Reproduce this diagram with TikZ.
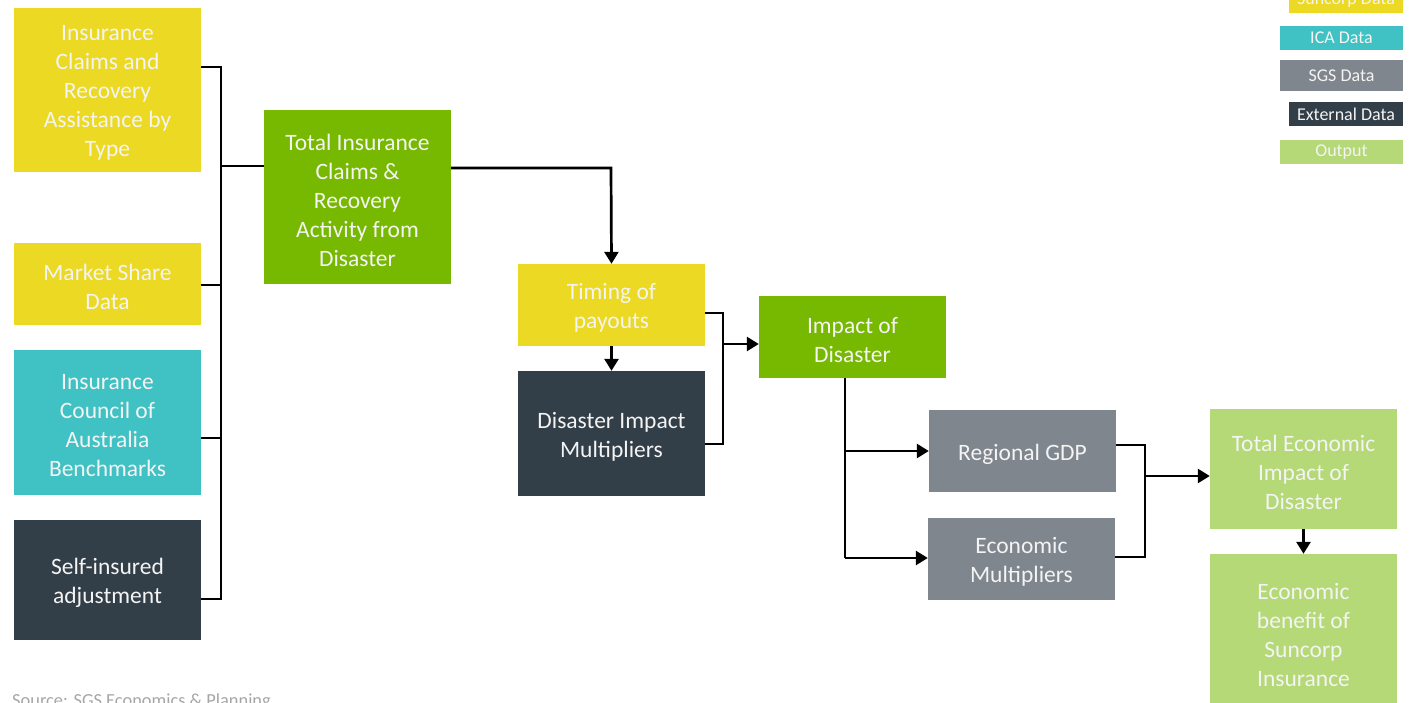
\documentclass[tikz,border=0pt]{standalone}
\usepackage{fontspec}
\setmainfont{Carlito}
\usetikzlibrary{arrows.meta}
\definecolor{yel}{HTML}{EBD923}
\definecolor{teal}{HTML}{40C1C3}
\definecolor{dark}{HTML}{323E48}
\definecolor{grn}{HTML}{76B900}
\definecolor{gry}{HTML}{7F868D}
\definecolor{lgrn}{HTML}{B5D976}
\definecolor{txt}{HTML}{F4F4F4}
\definecolor{src}{HTML}{A6A6A6}
\tikzset{
  box/.style={draw=none, inner sep=0pt, minimum width=187pt},
  lbl/.style={text=txt, align=center, inner sep=0pt, yshift=-3pt,
    font=\fontsize{23.5pt}{29pt}\selectfont},
  leg/.style={draw=none, text=txt, align=center, inner sep=0pt,
    font=\fontsize{18pt}{20pt}\selectfont},
  conn/.style={line width=2.7pt, black},
  arr/.style={conn, -{Triangle[width=14pt,length=12pt]}},
}
\begin{document}
\begin{tikzpicture}[x=1pt,y=-1pt]
\useasboundingbox (0,0) rectangle (1422,703);
\clip (0,0) rectangle (1422,703);
% boxes
\node[box, fill=yel, minimum height=164pt, label={[lbl]center:{Insurance\\Claims and\\Recovery\\Assistance by\\Type}}] (a) at (107.5,90) {};
\node[box, fill=yel, minimum height=82pt, label={[lbl]center:{Market Share\\Data}}] (ms) at (107.5,284) {};
\node[box, fill=teal, minimum height=145pt, label={[lbl]center:{Insurance\\Council of\\Australia\\Benchmarks}}] (ica) at (107.5,422.5) {};
\node[box, fill=dark, minimum height=120pt, label={[lbl]center:{Self-insured\\adjustment}}] (si) at (107.5,580) {};
\node[box, fill=grn, minimum height=174pt, label={[lbl]center:{Total Insurance\\Claims \&\\Recovery\\Activity from\\Disaster}}] (tot) at (357.5,197) {};
\node[box, fill=yel, minimum height=82pt, label={[lbl]center:{Timing of\\payouts}}] (tp) at (611.5,305) {};
\node[box, fill=dark, minimum height=125pt, label={[lbl]center:{Disaster Impact\\Multipliers}}] (dim) at (611.5,433.5) {};
\node[box, fill=grn, minimum height=82pt, label={[lbl]center:{Impact of\\Disaster}}] (imp) at (852.5,337) {};
\node[box, fill=gry, minimum height=82pt, label={[lbl]center:{Regional GDP}}] (gdp) at (1022.5,451) {};
\node[box, fill=gry, minimum height=82pt, label={[lbl]center:{Economic\\Multipliers}}] (em) at (1021.5,559) {};
\node[box, fill=lgrn, minimum height=120pt, label={[lbl]center:{Total Economic\\Impact of\\Disaster}}] (tei) at (1303.5,469) {};
\node[box, fill=lgrn, minimum height=156pt, label={[lbl]center:{Economic\\benefit of\\Suncorp\\Insurance}}] (eb) at (1303.5,632) {};
% legend
\node[leg, fill=yel, minimum width=114pt, minimum height=25pt] (l1) at (1346,0.5) {Suncorp Data};
\node[leg, fill=teal, minimum width=123pt, minimum height=24pt] (l2) at (1341.5,38) {ICA Data};
\node[leg, fill=gry, minimum width=123pt, minimum height=31pt] (l3) at (1341.5,75.5) {SGS Data};
\node[leg, fill=dark, minimum width=114pt, minimum height=24pt] (l4) at (1346,114) {External Data};
\node[leg, fill=lgrn, minimum width=123pt, minimum height=24pt] (l5) at (1341.5,152) {Output};
% source
\node[anchor=base west, inner sep=0pt, text=src, font=\fontsize{18.4pt}{20pt}\selectfont] (srcnode) at (12,706) {Source: SGS Economics \& Planning};
% connectors, left bracket
\coordinate (b1) at (221,67);
\coordinate (b2) at (221,599);
\coordinate (bm) at (221,166);
\draw[conn] (a.east |- b1) -- (b1) -- (b2) -- (si.east |- b2);
\draw[conn] (ms.east |- 0,285) -- (221,285);
\draw[conn] (ica.east |- 0,438) -- (221,438);
\draw[conn] (bm) -- (tot.west |- bm);
% total -> timing
\coordinate (t1) at (611,168);
\draw[arr] (tot.east |- t1) -- (t1) -- (tp.north);
% timing -> dim
\draw[arr] (tp.south) -- (dim.north);
% bracket to impact
\coordinate (c1) at (723,313);
\coordinate (c2) at (723,444);
\coordinate (cm) at (723,344);
\draw[conn] (tp.east |- c1) -- (c1) -- (c2) -- (dim.east |- c2);
\draw[arr] (cm) -- (imp.west |- cm);
% impact -> gdp, em
\coordinate (d0) at (845,378);
\coordinate (d1) at (845,451);
\coordinate (d2) at (845,558);
\draw[conn] (imp.south -| d0) -- (d2);
\draw[arr] (d1) -- (gdp.west |- d1);
\draw[arr] (d2) -- (em.west |- d2);
% bracket to tei
\coordinate (e1) at (1145,445);
\coordinate (e2) at (1145,557);
\coordinate (em2) at (1145,476);
\draw[conn] (gdp.east |- e1) -- (e1) -- (e2) -- (em.east |- e2);
\draw[arr] (em2) -- (tei.west |- em2);
% tei -> eb
\draw[arr] (tei.south) -- (eb.north);
\end{tikzpicture}
\end{document}
